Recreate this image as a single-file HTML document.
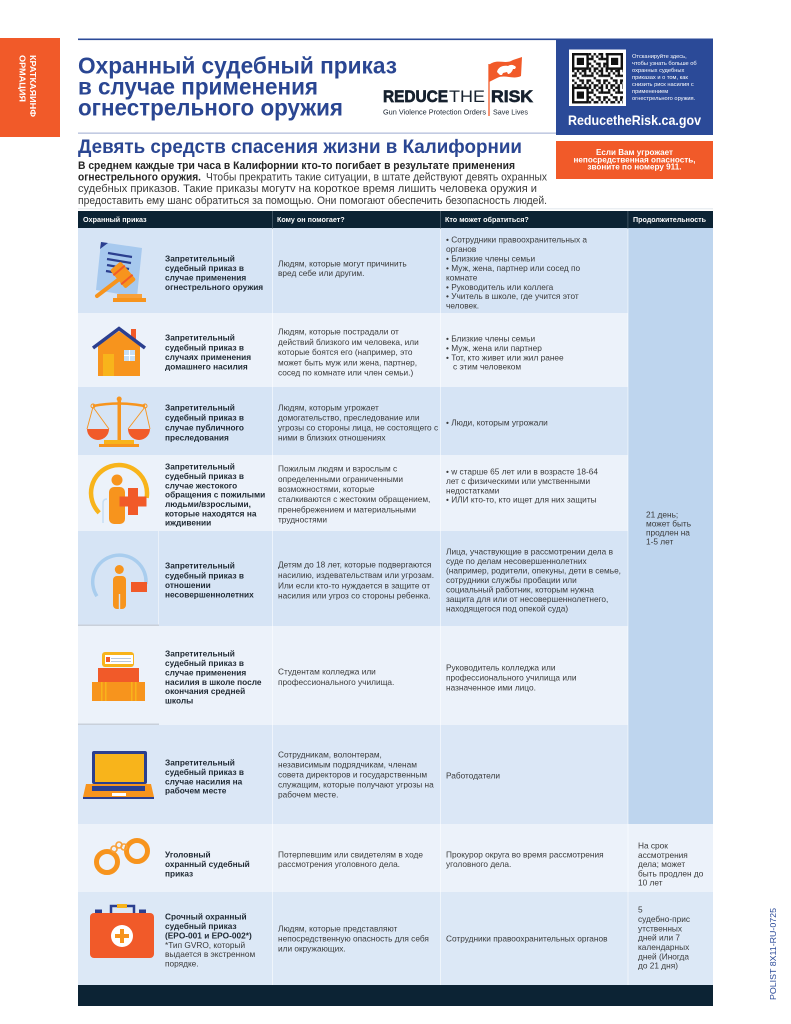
<!DOCTYPE html>
<html><head><meta charset="utf-8">
<style>
html,body{margin:0;padding:0;background:#fff;width:791px;height:1024px;overflow:hidden}
svg{display:block}
.b{font-size:8.3px;font-weight:bold;fill:#1f2933}
.n{font-size:8.3px;fill:#3a3a3a}
.h{font-size:7.2px;font-weight:bold;fill:#fff}
</style></head>
<body>
<svg width="791" height="1024" viewBox="0 0 791 1024" font-family="Liberation Sans, DejaVu Sans, sans-serif">
<defs>
<pattern id="qr" x="572" y="53" width="16.8" height="16.8" patternUnits="userSpaceOnUse">
<g fill="#111">
<rect x="0" y="0" width="2.4" height="2.4"/><rect x="4.8" y="0" width="2.4" height="2.4"/><rect x="9.6" y="0" width="4.8" height="2.4"/>
<rect x="2.4" y="2.4" width="2.4" height="2.4"/><rect x="7.2" y="2.4" width="2.4" height="2.4"/><rect x="12" y="2.4" width="2.4" height="4.8"/>
<rect x="0" y="4.8" width="4.8" height="2.4"/><rect x="9.6" y="4.8" width="2.4" height="2.4"/><rect x="14.4" y="4.8" width="2.4" height="2.4"/>
<rect x="4.8" y="7.2" width="2.4" height="2.4"/><rect x="0" y="9.6" width="2.4" height="2.4"/><rect x="7.2" y="9.6" width="4.8" height="2.4"/>
<rect x="14.4" y="9.6" width="2.4" height="4.8"/><rect x="2.4" y="12" width="2.4" height="2.4"/><rect x="9.6" y="12" width="2.4" height="2.4"/>
<rect x="0" y="14.4" width="2.4" height="2.4"/><rect x="4.8" y="14.4" width="4.8" height="2.4"/><rect x="12" y="14.4" width="2.4" height="2.4"/>
</g>
</pattern>
</defs>

<!-- orange side tab -->
<rect x="0" y="38" width="60" height="99" fill="#f15a29"/>
<text transform="translate(29.9,55) rotate(90)" font-size="8.5" font-weight="bold" fill="#fff" textLength="62" lengthAdjust="spacingAndGlyphs">КРАТКАЯИНФ</text>
<text transform="translate(19.6,55) rotate(90)" font-size="8.5" font-weight="bold" fill="#fff" textLength="47" lengthAdjust="spacingAndGlyphs">ОРМАЦИЯ</text>

<!-- top lines -->
<rect x="78" y="38.5" width="478" height="1.6" fill="#2b4a98"/>
<rect x="78" y="132.5" width="478" height="1.3" fill="#b3bedb"/>

<!-- title -->
<g font-size="23" font-weight="bold" fill="#2a4692">
<text x="78" y="73.7" textLength="319" lengthAdjust="spacingAndGlyphs">Охранный судебный приказ</text>
<text x="78" y="94.7" textLength="240" lengthAdjust="spacingAndGlyphs">в случае применения</text>
<text x="78" y="115.7" textLength="265" lengthAdjust="spacingAndGlyphs">огнестрельного оружия</text>
</g>

<!-- logo -->
<line x1="489" y1="64" x2="489" y2="116" stroke="#f15a29" stroke-width="1.3"/>
<path d="M489 65 C497 58 505 65 513 60 L522 57 L521 76 C513 80 505 74 497 78 L489 82 Z" fill="#f15a29"/>
<path d="M497 72 C498 67 503 65 508 66 C511 64 514 65 516 67 L515 69 L513 69 C512 72 510 74 508 74 L507 72 L503 73 L502 75 L500 75 Z" fill="#fff"/>
<g fill="#16212e">
<text x="383" y="102" font-size="17" font-weight="bold" stroke="#16212e" stroke-width="0.7" textLength="65" lengthAdjust="spacingAndGlyphs">REDUCE</text>
<text x="449" y="102" font-size="17" textLength="36" lengthAdjust="spacingAndGlyphs">THE</text>
<text x="491" y="102" font-size="17" font-weight="bold" stroke="#16212e" stroke-width="0.7" textLength="42" lengthAdjust="spacingAndGlyphs">RISK</text>
<text x="383" y="114.5" font-size="7" textLength="103" lengthAdjust="spacingAndGlyphs">Gun Violence Protection Orders</text>
<text x="493" y="114.5" font-size="7" textLength="35" lengthAdjust="spacingAndGlyphs">Save Lives</text>
</g>

<!-- blue box -->
<rect x="556" y="38.5" width="157" height="96.5" fill="#2b4a98"/>
<rect x="569" y="49.5" width="57" height="56.5" fill="#fff"/>
<rect x="572" y="53" width="51" height="50.5" fill="url(#qr)"/>
<g>
<rect x="572" y="53" width="16.8" height="16.8" fill="#111"/><rect x="574.4" y="55.4" width="12" height="12" fill="#fff"/><rect x="576.8" y="57.8" width="7.2" height="7.2" fill="#111"/>
<rect x="606.2" y="53" width="16.8" height="16.8" fill="#111"/><rect x="608.6" y="55.4" width="12" height="12" fill="#fff"/><rect x="611" y="57.8" width="7.2" height="7.2" fill="#111"/>
<rect x="572" y="86.7" width="16.8" height="16.8" fill="#111"/><rect x="574.4" y="89.1" width="12" height="12" fill="#fff"/><rect x="576.8" y="91.5" width="7.2" height="7.2" fill="#111"/>
</g>
<g font-size="5.7" fill="#fff">
<text x="632" y="57.8">Отсканируйте здесь,</text>
<text x="632" y="64.8">чтобы узнать больше об</text>
<text x="632" y="71.9">охранных судебных</text>
<text x="632" y="79">приказах и о том, как</text>
<text x="632" y="86">снизить риск насилия с</text>
<text x="632" y="93.1">применением</text>
<text x="632" y="100.1">огнестрельного оружия.</text>
</g>
<text x="568" y="125" font-size="14" font-weight="bold" fill="#fff" textLength="133" lengthAdjust="spacingAndGlyphs">ReducetheRisk.ca.gov</text>

<!-- orange box -->
<rect x="556" y="141" width="157" height="38" fill="#f15a29"/>
<g font-size="7.8" font-weight="bold" fill="#fff" text-anchor="middle">
<text x="634.5" y="155.1" textLength="77" lengthAdjust="spacingAndGlyphs">Если Вам угрожает</text>
<text x="634.5" y="162.4" textLength="122" lengthAdjust="spacingAndGlyphs">непосредственная опасность,</text>
<text x="634.5" y="169.7" textLength="94" lengthAdjust="spacingAndGlyphs">звоните по номеру 911.</text>
</g>

<!-- subtitle + paragraph -->
<text x="78" y="153" font-size="19.5" font-weight="bold" fill="#2a4692" textLength="444" lengthAdjust="spacingAndGlyphs">Девять средств спасения жизни в Калифорнии</text>
<text x="78" y="168.8" font-size="10.8" font-weight="bold" fill="#262626" textLength="437" lengthAdjust="spacingAndGlyphs">В среднем каждые три часа в Калифорнии кто-то погибает в результате применения</text>
<text x="78" y="180.5" font-size="10.8" font-weight="bold" fill="#262626" textLength="123" lengthAdjust="spacingAndGlyphs">огнестрельного оружия.</text>
<text x="206" y="180.5" font-size="10.8" fill="#3a3a3a" textLength="341" lengthAdjust="spacingAndGlyphs">Чтобы прекратить такие ситуации, в штате действуют девять охранных</text>
<text x="78" y="192.2" font-size="10.8" fill="#3a3a3a" textLength="459" lengthAdjust="spacingAndGlyphs">судебных приказов. Такие приказы могутv на короткое время лишить человека оружия и</text>
<text x="78" y="203.9" font-size="10.8" fill="#3a3a3a" textLength="469" lengthAdjust="spacingAndGlyphs">предоставить ему шанс обратиться за помощью. Они помогают обеспечить безопасность людей.</text>
<rect x="78" y="208.3" width="635" height="1" fill="#e2e6ec"/>

<!-- table backgrounds -->
<rect x="78" y="211" width="635" height="17.5" fill="#0c2334"/>
<rect x="78" y="228" width="635" height="85" fill="#d6e4f5"/>
<rect x="78" y="313" width="635" height="74" fill="#ecf2fa"/>
<rect x="78" y="387" width="635" height="68" fill="#d6e4f5"/>
<rect x="78" y="455" width="635" height="76" fill="#ecf2fa"/>
<rect x="78" y="531" width="635" height="95" fill="#d6e4f5"/>
<rect x="78" y="626" width="635" height="99" fill="#ecf2fa"/>
<rect x="78" y="725" width="635" height="99" fill="#dbe7f6"/>
<rect x="78" y="824" width="635" height="68" fill="#ecf2fa"/>
<rect x="78" y="892" width="635" height="93" fill="#dce8f6"/>
<rect x="628" y="228" width="85" height="596" fill="#bed5ee"/>
<rect x="78" y="985" width="635" height="21" fill="#0c2334"/>
<g fill="#ffffff" opacity="0.55">
<rect x="272" y="228" width="1" height="757"/>
<rect x="440" y="228" width="1" height="757"/>
<rect x="627.5" y="228" width="1" height="757"/>
</g>
<g fill="#4a5d6c">
<rect x="272" y="211" width="0.8" height="17.5"/>
<rect x="440" y="211" width="0.8" height="17.5"/>
<rect x="627.5" y="211" width="0.8" height="17.5"/>
</g>
<rect x="158" y="531" width="1" height="95" fill="#e9f0f9"/>
<rect x="78" y="624.5" width="81" height="1.5" fill="#c9d0da"/>
<rect x="78" y="723.5" width="81" height="1.5" fill="#c9d0da"/>

<!-- header text -->
<text x="83" y="222" class="h">Охранный приказ</text>
<text x="277" y="222" class="h">Кому он помогает?</text>
<text x="445" y="222" class="h">Кто может обратиться?</text>
<text x="633" y="222" class="h" textLength="73" lengthAdjust="spacingAndGlyphs">Продолжительность</text>

<!-- Row 1 -->
<text class="b" x="165" y="261.6"><tspan x="165">Запретительный</tspan><tspan x="165" dy="9.5">судебный приказ в</tspan><tspan x="165" dy="9.5">случае применения</tspan><tspan x="165" dy="9.5">огнестрельного оружия</tspan></text>
<text class="n" x="278" y="266.6"><tspan x="278">Людям, которые могут причинить</tspan><tspan x="278" dy="9.6">вред себе или другим.</tspan></text>
<text class="n" x="446" y="242.6"><tspan x="446">• Сотрудники правоохранительных а</tspan><tspan x="446" dy="9.43">органов</tspan><tspan x="446" dy="9.43">• Близкие члены семьи</tspan><tspan x="446" dy="9.43">• Муж, жена, партнер или сосед по</tspan><tspan x="446" dy="9.43">комнате</tspan><tspan x="446" dy="9.43">• Руководитель или коллега</tspan><tspan x="446" dy="9.43">• Учитель в школе, где учится этот</tspan><tspan x="446" dy="9.43">человек.</tspan></text>

<!-- Row 2 -->
<text class="b" x="165" y="340.6"><tspan x="165">Запретительный</tspan><tspan x="165" dy="9.67">судебный приказ в</tspan><tspan x="165" dy="9.67">случаях применения</tspan><tspan x="165" dy="9.67">домашнего насилия</tspan></text>
<text class="n" x="278" y="334.6"><tspan x="278">Людям, которые пострадали от</tspan><tspan x="278" dy="10.25">действий близкого им человека, или</tspan><tspan x="278" dy="10.25">которые боятся его (например, это</tspan><tspan x="278" dy="10.25">может быть муж или жена, партнер,</tspan><tspan x="278" dy="10.25">сосед по комнате или член семьи.)</tspan></text>
<text class="n" x="446" y="341.6"><tspan x="446">•  Близкие члены семьи</tspan><tspan x="446" dy="9.33">•  Муж, жена или партнер</tspan><tspan x="446" dy="9.33">•  Тот, кто живет или жил ранее</tspan><tspan x="453" dy="9.33">с этим человеком</tspan></text>

<!-- Row 3 -->
<text class="b" x="165" y="410.6"><tspan x="165">Запретительный</tspan><tspan x="165" dy="10">судебный приказ в</tspan><tspan x="165" dy="10">случае публичного</tspan><tspan x="165" dy="10">преследования</tspan></text>
<text class="n" x="278" y="410.6"><tspan x="278">Людям, которым угрожает</tspan><tspan x="278" dy="10">домогательство, преследование или</tspan><tspan x="278" dy="10">угрозы со стороны лица, не состоящего с</tspan><tspan x="278" dy="10">ними в близких отношениях</tspan></text>
<text class="n" x="446" y="425.6">• Люди, которым угрожали</text>

<!-- Row 4 -->
<text class="b" x="165" y="469.6"><tspan x="165">Запретительный</tspan><tspan x="165" dy="9.33">судебный приказ в</tspan><tspan x="165" dy="9.33">случае жестокого</tspan><tspan x="165" dy="9.33">обращения с пожилыми</tspan><tspan x="165" dy="9.33">людьми/взрослыми,</tspan><tspan x="165" dy="9.33">которые находятся на</tspan><tspan x="165" dy="9.33">иждивении</tspan></text>
<text class="n" x="278" y="471.6"><tspan x="278">Пожилым людям и взрослым с</tspan><tspan x="278" dy="10.2">определенными ограниченными</tspan><tspan x="278" dy="10.2">возможностями, которые</tspan><tspan x="278" dy="10.2">сталкиваются с жестоким обращением,</tspan><tspan x="278" dy="10.2">пренебрежением и материальными</tspan><tspan x="278" dy="10.2">трудностями</tspan></text>
<text class="n" x="446" y="474.6"><tspan x="446">• w старше 65 лет или в возрасте 18-64</tspan><tspan x="446" dy="9.33">лет с физическими или умственными</tspan><tspan x="446" dy="9.33">недостатками</tspan><tspan x="446" dy="9.33">• ИЛИ кто-то, кто ищет для них защиты</tspan></text>

<!-- merged duration -->
<text class="n" x="646" y="517.6"><tspan x="646">21 день;</tspan><tspan x="646" dy="9">может быть</tspan><tspan x="646" dy="9">продлен на</tspan><tspan x="646" dy="9">1-5 лет</tspan></text>

<!-- Row 5 -->
<text class="b" x="165" y="568.6"><tspan x="165">Запретительный</tspan><tspan x="165" dy="9.67">судебный приказ в</tspan><tspan x="165" dy="9.67">отношении</tspan><tspan x="165" dy="9.67">несовершеннолетних</tspan></text>
<text class="n" x="278" y="567.6"><tspan x="278">Детям до 18 лет, которые подвергаются</tspan><tspan x="278" dy="10.33">насилию, издевательствам или угрозам.</tspan><tspan x="278" dy="10.33">Или если кто-то нуждается в защите от</tspan><tspan x="278" dy="10.33">насилия или угроз со стороны ребенка.</tspan></text>
<text class="n" x="446" y="554.6"><tspan x="446">Лица, участвующие в рассмотрении дела в</tspan><tspan x="446" dy="9.5">суде по делам несовершеннолетних</tspan><tspan x="446" dy="9.5">(например, родители, опекуны, дети в семье,</tspan><tspan x="446" dy="9.5">сотрудники службы пробации или</tspan><tspan x="446" dy="9.5">социальный работник, которым нужна</tspan><tspan x="446" dy="9.5">защита для или от несовершеннолетнего,</tspan><tspan x="446" dy="9.5">находящегося под опекой суда)</tspan></text>

<!-- Row 6 -->
<text class="b" x="165" y="656.6"><tspan x="165">Запретительный</tspan><tspan x="165" dy="9.4">судебный приказ в</tspan><tspan x="165" dy="9.4">случае применения</tspan><tspan x="165" dy="9.4">насилия в школе после</tspan><tspan x="165" dy="9.4">окончания средней</tspan><tspan x="165" dy="9.4">школы</tspan></text>
<text class="n" x="278" y="674.6"><tspan x="278">Студентам колледжа или</tspan><tspan x="278" dy="10.5">профессионального училища.</tspan></text>
<text class="n" x="446" y="670.6"><tspan x="446">Руководитель колледжа или</tspan><tspan x="446" dy="10">профессионального училища или</tspan><tspan x="446" dy="10">назначенное ими лицо.</tspan></text>

<!-- Row 7 -->
<text class="b" x="165" y="765.6"><tspan x="165">Запретительный</tspan><tspan x="165" dy="9.33">судебный приказ в</tspan><tspan x="165" dy="9.33">случае насилия на</tspan><tspan x="165" dy="9.33">рабочем месте</tspan></text>
<text class="n" x="278" y="757.6"><tspan x="278">Сотрудникам, волонтерам,</tspan><tspan x="278" dy="10">независимым подрядчикам, членам</tspan><tspan x="278" dy="10">совета директоров и государственным</tspan><tspan x="278" dy="10">служащим, которые получают угрозы на</tspan><tspan x="278" dy="10">рабочем месте.</tspan></text>
<text class="n" x="446" y="778.6">Работодатели</text>

<!-- Row 8 -->
<text class="b" x="165" y="857.6"><tspan x="165">Уголовный</tspan><tspan x="165" dy="9.5">охранный судебный</tspan><tspan x="165" dy="9.5">приказ</tspan></text>
<text class="n" x="278" y="857.6"><tspan x="278">Потерпевшим или свидетелям в ходе</tspan><tspan x="278" dy="9.5">рассмотрения уголовного дела.</tspan></text>
<text class="n" x="446" y="857.6"><tspan x="446">Прокурор округа во время рассмотрения</tspan><tspan x="446" dy="9.5">уголовного дела.</tspan></text>
<text class="n" x="638" y="848.6"><tspan x="638">На срок</tspan><tspan x="638" dy="9.25">ассмотрения</tspan><tspan x="638" dy="9.25">дела; может</tspan><tspan x="638" dy="9.25">быть продлен до</tspan><tspan x="638" dy="9.25">10 лет</tspan></text>

<!-- Row 9 -->
<text class="b" x="165" y="919.6"><tspan x="165">Срочный охранный</tspan><tspan x="165" dy="9.4">судебный приказ</tspan><tspan x="165" dy="9.4">(EPO-001 и EPO-002*)</tspan></text>
<text class="n" x="165" y="947.8"><tspan x="165">*Тип GVRO, который</tspan><tspan x="165" dy="9.4">выдается в экстренном</tspan><tspan x="165" dy="9.4">порядке.</tspan></text>
<text class="n" x="278" y="931.6"><tspan x="278">Людям, которые представляют</tspan><tspan x="278" dy="10">непосредственную опасность для себя</tspan><tspan x="278" dy="10">или окружающих.</tspan></text>
<text class="n" x="446" y="941.6">Сотрудники правоохранительных органов</text>
<text class="n" x="638" y="912.6"><tspan x="638">5</tspan><tspan x="638" dy="9.33">судебно-прис</tspan><tspan x="638" dy="9.33">утственных</tspan><tspan x="638" dy="9.33">дней или 7</tspan><tspan x="638" dy="9.33">календарных</tspan><tspan x="638" dy="9.33">дней (Иногда</tspan><tspan x="638" dy="9.33">до 21 дня)</tspan></text>

<!-- ICONS -->
<!-- row1 document + gavel -->
<polygon points="101,242 142,248 137,297 96,290" fill="#a7c9ee"/>
<polygon points="101,242 108,243 100,249" fill="#2b3f8f"/>
<g stroke="#2b3f8f" stroke-width="2.2">
<line x1="108" y1="253" x2="132" y2="257"/>
<line x1="107" y1="259" x2="131" y2="263"/>
<line x1="107" y1="265" x2="129" y2="269"/>
<line x1="106" y1="271" x2="118" y2="273"/>
</g>
<line x1="97" y1="296" x2="118" y2="280" stroke="#f7941d" stroke-width="4" stroke-linecap="round"/>
<rect x="-7" y="-12" width="14" height="24" rx="2" fill="#f7941d" transform="translate(123,275) rotate(-40)"/>
<rect x="-7.5" y="-2" width="15" height="2" fill="#f15a29" transform="translate(123,275) rotate(-40) translate(0,-5)"/>
<rect x="-7.5" y="-2" width="15" height="2" fill="#f15a29" transform="translate(123,275) rotate(-40) translate(0,7)"/>
<rect x="117" y="294" width="25" height="4" fill="#f8a13a"/>
<rect x="113" y="298" width="33" height="4" fill="#f7941d"/>

<!-- row2 house -->
<rect x="131" y="329" width="5" height="10" fill="#f15a29"/>
<polygon points="98,346 119,331 140,346 140,376 98,376" fill="#f7941d"/>
<polyline points="93,348 119,328.5 145,348" fill="none" stroke="#2b3f8f" stroke-width="3.5"/>
<rect x="103" y="354" width="11" height="22" fill="#f8b41b"/>
<rect x="124" y="350" width="11" height="11" fill="#c6def5"/>
<rect x="129" y="350" width="1" height="11" fill="#fff"/>
<rect x="124" y="355" width="11" height="1" fill="#fff"/>

<!-- row3 scales -->
<rect x="117.5" y="401" width="3.5" height="39" fill="#f7941d"/>
<circle cx="119.2" cy="399" r="2.5" fill="#f7941d"/>
<path d="M93 406 Q119 401 145 406" stroke="#f7941d" stroke-width="2.5" fill="none"/>
<circle cx="93" cy="406" r="2" fill="none" stroke="#f7941d" stroke-width="1"/>
<circle cx="145" cy="406" r="2" fill="none" stroke="#f7941d" stroke-width="1"/>
<g stroke="#f7941d" stroke-width="0.9">
<line x1="93" y1="407" x2="87" y2="429"/><line x1="93" y1="407" x2="109" y2="429"/>
<line x1="145" y1="407" x2="128" y2="429"/><line x1="145" y1="407" x2="150" y2="429"/>
</g>
<path d="M87 429 A11 11 0 0 0 109 429 Z" fill="#f15a29"/>
<path d="M128 429 A11 11 0 0 0 150 429 Z" fill="#f15a29"/>
<rect x="104" y="440" width="30" height="4" fill="#f8b41b"/>
<rect x="99" y="444" width="40" height="3" fill="#f7941d"/>

<!-- row4 elderly -->
<path d="M99.2 512.8 A28 28 0 1 1 146.6 497.9" fill="none" stroke="#f8b41b" stroke-width="4.5"/>
<path d="M103 523 V503 Q103 499 107 499" fill="none" stroke="#c6def5" stroke-width="1.5"/>
<circle cx="117" cy="480" r="5.5" fill="#f7941d"/>
<rect x="109" y="487" width="16" height="37" rx="5" fill="#f7941d"/>
<rect x="128" y="488" width="10" height="27" fill="#f15a29"/>
<rect x="119.5" y="496.5" width="27" height="10" fill="#f15a29"/>

<!-- row5 minor -->
<path d="M96.9 596.2 A26.7 26.7 0 1 1 146 584" fill="none" stroke="#a9cdee" stroke-width="3.5"/>
<circle cx="119.3" cy="569.5" r="4.5" fill="#f7941d"/>
<rect x="113" y="576" width="13" height="33" rx="4" fill="#f7941d"/>
<rect x="118.8" y="594" width="1.4" height="15" fill="#d6e4f5"/>
<rect x="131" y="582" width="16" height="10" fill="#f15a29"/>

<!-- row6 books -->
<rect x="92" y="682" width="53" height="19" fill="#f7941d"/>
<rect x="101" y="682" width="1.5" height="19" fill="#f8b41b"/>
<rect x="105" y="682" width="1.5" height="19" fill="#f8b41b"/>
<rect x="131" y="682" width="1.5" height="19" fill="#f8b41b"/>
<rect x="135" y="682" width="1.5" height="19" fill="#f8b41b"/>
<rect x="98" y="668" width="41" height="14" fill="#f15a29"/>
<rect x="102" y="652" width="32" height="15" rx="3" fill="#f8b41b"/>
<rect x="105" y="655" width="28" height="9" fill="#fff"/>
<rect x="111" y="658" width="20" height="1" fill="#b8c8dc"/>
<rect x="111" y="661" width="20" height="1" fill="#b8c8dc"/>
<rect x="106" y="657" width="4" height="5" fill="#f15a29"/>

<!-- row7 laptop -->
<rect x="92" y="751" width="55" height="33" rx="2" fill="#2b3f8f"/>
<rect x="95" y="754" width="49" height="28" fill="#f8b41b"/>
<polygon points="86,784 151,784 154,797 83,797" fill="#f7941d"/>
<rect x="92" y="786" width="53" height="5" fill="#2b3f8f"/>
<rect x="112" y="793" width="14" height="3" fill="#fff"/>
<rect x="83" y="797" width="71" height="2" fill="#2b3f8f"/>

<!-- row8 handcuffs -->
<circle cx="107" cy="862" r="10.5" fill="none" stroke="#f7941d" stroke-width="5"/>
<circle cx="137" cy="851" r="10.5" fill="none" stroke="#f7941d" stroke-width="5"/>
<g fill="none" stroke="#f8a13a" stroke-width="1.6">
<circle cx="114" cy="849" r="3"/><circle cx="119" cy="845" r="3"/><circle cx="124" cy="847" r="3"/>
</g>

<!-- row9 first aid -->
<path d="M111 913 V906 H134 V913" fill="none" stroke="#2b3f8f" stroke-width="2.5"/>
<rect x="117" y="904" width="10" height="4" fill="#f8b41b"/>
<rect x="95" y="909.5" width="7" height="4" fill="#2b3f8f"/>
<rect x="139" y="909.5" width="7" height="4" fill="#2b3f8f"/>
<rect x="90" y="913" width="64" height="45" rx="4" fill="#f15a29"/>
<circle cx="122" cy="936" r="11" fill="#fff"/>
<rect x="120" y="929" width="4" height="14" fill="#f7941d"/>
<rect x="115" y="934" width="14" height="4" fill="#f7941d"/>

<!-- side code -->
<text transform="translate(776,1000) rotate(-90)" font-size="8.5" fill="#2b4a98" textLength="92" lengthAdjust="spacingAndGlyphs">POLIST 8X11-RU-0725</text>
</svg>
</body></html>
